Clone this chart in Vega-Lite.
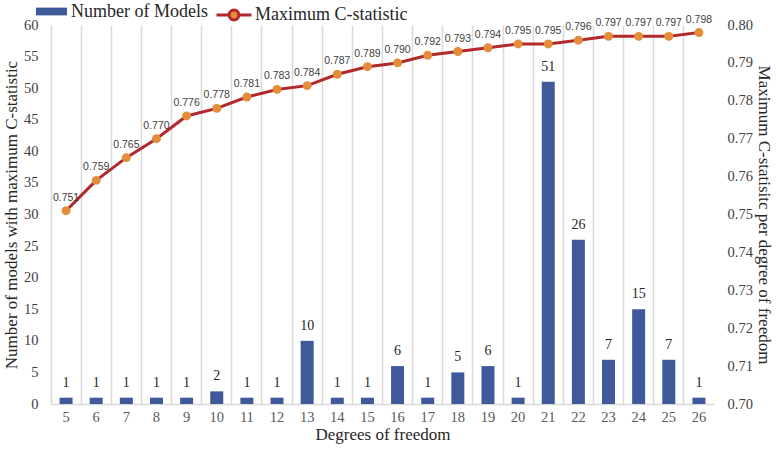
{
  "$schema": "https://vega.github.io/schema/vega-lite/v6.json",
  "autosize": {"type": "none"},
  "padding": {"left": 51, "top": 25, "right": 63, "bottom": 49},
  "width": 663,
  "height": 379,
  "background": "white",
  "config": {
    "view": {"stroke": null},
    "font": "Liberation Serif"
  },
  "data": {
    "values": [
      {"df": 5, "n": 1, "c": 0.751},
      {"df": 6, "n": 1, "c": 0.759},
      {"df": 7, "n": 1, "c": 0.765},
      {"df": 8, "n": 1, "c": 0.770},
      {"df": 9, "n": 1, "c": 0.776},
      {"df": 10, "n": 2, "c": 0.778},
      {"df": 11, "n": 1, "c": 0.781},
      {"df": 12, "n": 1, "c": 0.783},
      {"df": 13, "n": 10, "c": 0.784},
      {"df": 14, "n": 1, "c": 0.787},
      {"df": 15, "n": 1, "c": 0.789},
      {"df": 16, "n": 6, "c": 0.790},
      {"df": 17, "n": 1, "c": 0.792},
      {"df": 18, "n": 5, "c": 0.793},
      {"df": 19, "n": 6, "c": 0.794},
      {"df": 20, "n": 1, "c": 0.795},
      {"df": 21, "n": 51, "c": 0.795},
      {"df": 22, "n": 26, "c": 0.796},
      {"df": 23, "n": 7, "c": 0.797},
      {"df": 24, "n": 15, "c": 0.797},
      {"df": 25, "n": 7, "c": 0.797},
      {"df": 26, "n": 1, "c": 0.798}
    ]
  },
  "encoding": {
    "x": {
      "field": "df", "type": "ordinal",
      "scale": {"paddingInner": 0, "paddingOuter": 0},
      "axis": {
        "title": "Degrees of freedom", "titleFont": "Liberation Serif", "titleFontSize": 17,
        "titleFontWeight": "normal", "titleColor": "#262626", "titlePadding": 3,
        "labelAngle": 0, "labelFontSize": 14.5, "labelColor": "#595959", "labelPadding": 6,
        "ticks": false, "domainColor": "#D9D9D9", "domainWidth": 1.5,
        "grid": true, "gridColor": "#D9D9D9", "gridWidth": 1.5, "bandPosition": 0
      }
    }
  },
  "layer": [
    {
      "encoding": {
        "y": {
          "field": "n", "type": "quantitative",
          "scale": {"domain": [0, 60]},
          "axis": {
            "title": "Number of models with maximum C-statistic",
            "titleFont": "Liberation Serif", "titleFontSize": 17, "titleFontWeight": "normal",
            "titleColor": "#262626", "titlePadding": 3,
            "values": [0,5,10,15,20,25,30,35,40,45,50,55,60],
            "labelFontSize": 14.5, "labelColor": "#404040", "labelPadding": 13,
            "grid": false, "domain": false, "ticks": false
          }
        }
      },
      "layer": [
        {
          "mark": {"type": "bar", "size": 13},
          "encoding": {
            "fill": {
              "datum": "Number of Models", "type": "nominal",
              "scale": {"range": ["#3F5A9A"]},
              "legend": {
                "title": null, "orient": "none", "legendX": -15, "legendY": -29,
                "symbolType": "M-1,-0.25H1V0.25H-1Z", "symbolSize": 961,
                "symbolStrokeWidth": 0,
                "labelFont": "Liberation Serif", "labelFontSize": 18, "labelColor": "#262626",
                "labelOffset": 4
              }
            }
          }
        },
        {
          "mark": {"type": "text", "dy": -8, "font": "Liberation Serif", "fontSize": 14, "color": "#262626", "baseline": "bottom"},
          "encoding": {
            "text": {"field": "n", "type": "quantitative"}
          }
        }
      ]
    },
    {
      "encoding": {
        "y": {
          "field": "c", "type": "quantitative",
          "scale": {"domain": [0.70, 0.80], "zero": false},
          "axis": {
            "orient": "right",
            "title": "Maximum C-statisitc per degree of freedom",
            "titleFont": "Liberation Serif", "titleFontSize": 17, "titleFontWeight": "normal",
            "titleColor": "#262626", "titlePadding": 2,
            "values": [0.70,0.71,0.72,0.73,0.74,0.75,0.76,0.77,0.78,0.79,0.80],
            "format": ".2f",
            "labelFontSize": 14.5, "labelColor": "#404040", "labelPadding": 13,
            "grid": false, "domain": false, "ticks": false
          }
        }
      },
      "layer": [
        {
          "mark": {"type": "line", "strokeWidth": 3, "color": "#B2282B"},
          "encoding": {
            "stroke": {
              "datum": "Maximum C-statistic", "type": "nominal",
              "scale": {"range": ["#B2282B"]},
              "legend": {
                "title": null, "orient": "none", "legendX": 164, "legendY": -29,
                "symbolType": "M-1,0H-0.28A0.28,0.28 0 1,1 0.28,0A0.28,0.28 0 1,1 -0.28,0M0.28,0H1",
                "symbolSize": 1225, "symbolStrokeWidth": 3, "symbolFillColor": "#E38D3B",
                "labelFont": "Liberation Serif", "labelFontSize": 18, "labelColor": "#262626",
                "labelOffset": 2
              }
            }
          }
        },
        {
          "mark": {"type": "circle", "size": 80, "color": "#E38D3B", "opacity": 1}
        },
        {
          "mark": {"type": "text", "dy": -8, "font": "Liberation Sans", "fontSize": 10.5, "color": "#404040", "baseline": "bottom"},
          "encoding": {
            "text": {"field": "c", "type": "quantitative", "format": ".3f"}
          }
        }
      ]
    }
  ],
  "resolve": {"scale": {"y": "independent", "fill": "independent", "stroke": "independent"}}
}
